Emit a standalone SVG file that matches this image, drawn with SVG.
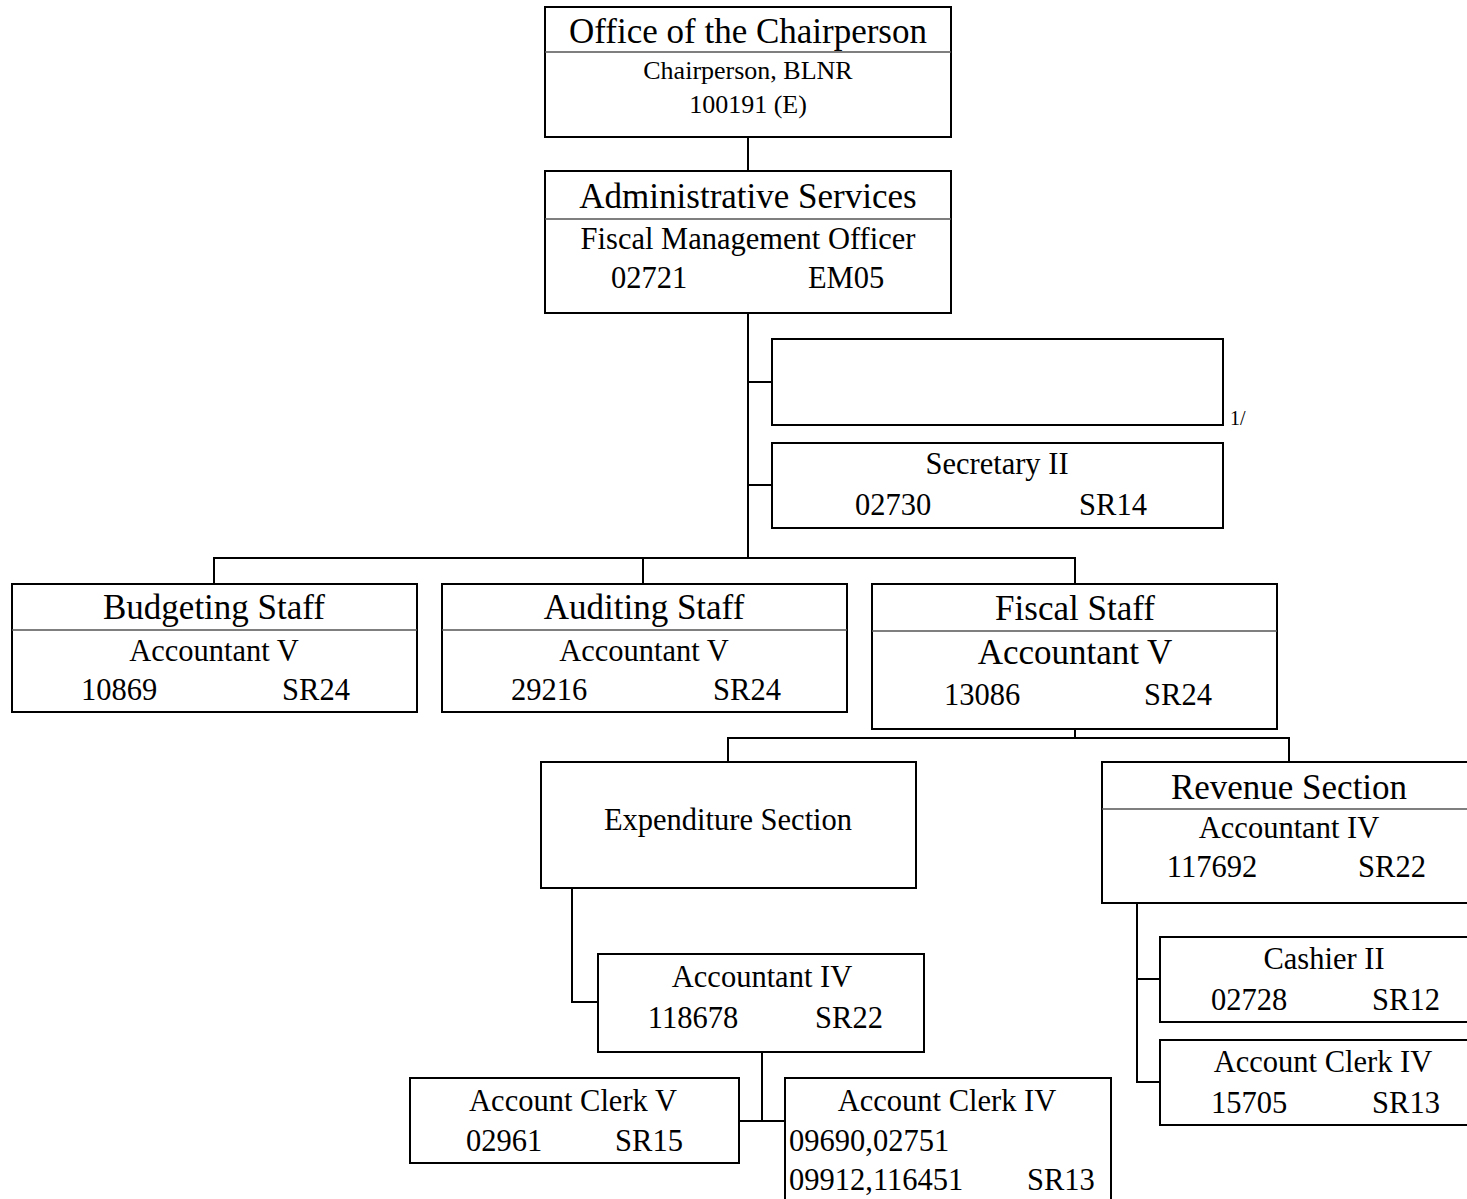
<svg xmlns="http://www.w3.org/2000/svg" width="1467" height="1199" viewBox="0 0 1467 1199">
<style>
.box{fill:#fff;stroke:#000;stroke-width:2}
.div{stroke:#555;stroke-width:1.3}
.ln{stroke:#000;stroke-width:2;fill:none}
text{font-family:"Liberation Serif","Times New Roman",serif;fill:#000}
.t{font-size:35px;text-anchor:middle}
.b{font-size:30.5px;text-anchor:middle}
.s{font-size:26px;text-anchor:middle}
.l{font-size:30.5px;text-anchor:start}
.n{font-size:20px}
</style>
<rect width="1467" height="1199" fill="#fff"/>
<g id="connectors">
<path class="ln" d="M748 137V171"/>
<path class="ln" d="M748 313V558"/>
<path class="ln" d="M748 382H772"/>
<path class="ln" d="M748 485H772"/>
<path class="ln" d="M214 584V558H1075V584"/>
<path class="ln" d="M643 558V584"/>
<path class="ln" d="M1075 729V738"/>
<path class="ln" d="M728 762V738H1289V762"/>
<path class="ln" d="M572 888V1002H598"/>
<path class="ln" d="M762 1052V1121"/>
<path class="ln" d="M739 1121H785"/>
<path class="ln" d="M1137 903V1082H1160"/>
<path class="ln" d="M1137 979H1160"/>
</g>
<g id="chair">
<rect class="box" x="545" y="7" width="406" height="130"/>
<line class="div" x1="545" y1="52" x2="951" y2="52"/>
<text class="t" x="748" y="43">Office of the Chairperson</text>
<text class="s" x="748" y="79">Chairperson, BLNR</text>
<text class="s" x="748" y="113">100191 (E)</text>
</g>
<g id="admin">
<rect class="box" x="545" y="171" width="406" height="142"/>
<line class="div" x1="545" y1="219" x2="951" y2="219"/>
<text class="t" x="748" y="208">Administrative Services</text>
<text class="b" x="748" y="249">Fiscal Management Officer</text>
<text class="b" x="649" y="288">02721</text>
<text class="b" x="846" y="288">EM05</text>
</g>
<g id="blank">
<rect class="box" x="772" y="339" width="451" height="86"/>
<text class="n" x="1230" y="425">1/</text>
</g>
<g id="secretary">
<rect class="box" x="772" y="443" width="451" height="85"/>
<text class="b" x="997" y="474">Secretary II</text>
<text class="b" x="893" y="515">02730</text>
<text class="b" x="1113" y="515">SR14</text>
</g>
<g id="budgeting">
<rect class="box" x="12" y="584" width="405" height="128"/>
<line class="div" x1="12" y1="630" x2="417" y2="630"/>
<text class="t" x="214" y="619">Budgeting Staff</text>
<text class="b" x="214" y="661">Accountant V</text>
<text class="b" x="119" y="700">10869</text>
<text class="b" x="316" y="700">SR24</text>
</g>
<g id="auditing">
<rect class="box" x="442" y="584" width="405" height="128"/>
<line class="div" x1="442" y1="630" x2="847" y2="630"/>
<text class="t" x="644" y="619">Auditing Staff</text>
<text class="b" x="644" y="661">Accountant V</text>
<text class="b" x="549" y="700">29216</text>
<text class="b" x="747" y="700">SR24</text>
</g>
<g id="fiscal">
<rect class="box" x="872" y="584" width="405" height="145"/>
<line class="div" x1="872" y1="631" x2="1277" y2="631"/>
<text class="t" x="1075" y="620">Fiscal Staff</text>
<text class="t" x="1075" y="664">Accountant V</text>
<text class="b" x="982" y="705">13086</text>
<text class="b" x="1178" y="705">SR24</text>
</g>
<g id="expenditure">
<rect class="box" x="541" y="762" width="375" height="126"/>
<text class="b" x="728" y="830">Expenditure Section</text>
</g>
<g id="revenue">
<rect class="box" x="1102" y="762" width="380" height="141"/>
<line class="div" x1="1102" y1="809" x2="1482" y2="809"/>
<text class="t" x="1289" y="799">Revenue Section</text>
<text class="b" x="1289" y="838">Accountant IV</text>
<text class="b" x="1212" y="877">117692</text>
<text class="b" x="1392" y="877">SR22</text>
</g>
<g id="acct4">
<rect class="box" x="598" y="954" width="326" height="98"/>
<text class="b" x="762" y="987">Accountant IV</text>
<text class="b" x="693" y="1028">118678</text>
<text class="b" x="849" y="1028">SR22</text>
</g>
<g id="clerk5">
<rect class="box" x="410" y="1078" width="329" height="85"/>
<text class="b" x="573" y="1111">Account Clerk V</text>
<text class="b" x="504" y="1151">02961</text>
<text class="b" x="649" y="1151">SR15</text>
</g>
<g id="clerk4a">
<rect class="box" x="785" y="1078" width="326" height="140"/>
<text class="b" x="947" y="1111">Account Clerk IV</text>
<text class="l" x="789" y="1151">09690,02751</text>
<text class="l" x="789" y="1190">09912,116451</text>
<text class="l" x="1027" y="1190">SR13</text>
</g>
<g id="cashier">
<rect class="box" x="1160" y="937" width="326" height="85"/>
<text class="b" x="1324" y="969">Cashier II</text>
<text class="b" x="1249" y="1010">02728</text>
<text class="b" x="1406" y="1010">SR12</text>
</g>
<g id="clerk4b">
<rect class="box" x="1160" y="1040" width="326" height="85"/>
<text class="b" x="1323" y="1072">Account Clerk IV</text>
<text class="b" x="1249" y="1113">15705</text>
<text class="b" x="1406" y="1113">SR13</text>
</g>
</svg>
